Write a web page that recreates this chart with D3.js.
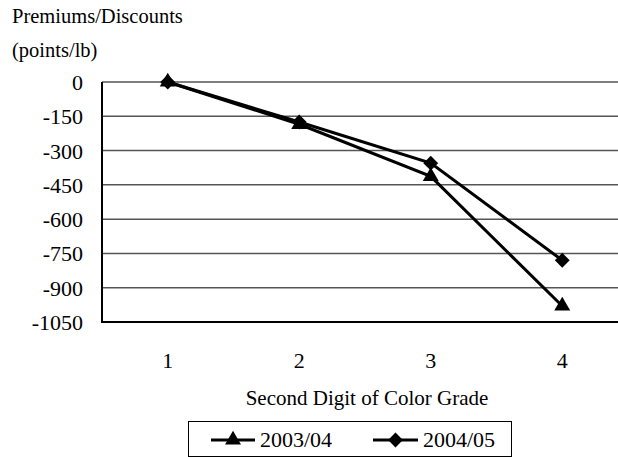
<!DOCTYPE html>
<html>
<head>
<meta charset="utf-8">
<script src="https://cdn.jsdelivr.net/npm/d3@7"></script>
<style>
  html, body { margin: 0; padding: 0; background: #fff; }
  svg { display: block; }
  text { font-family: "Liberation Serif", "Times New Roman", serif; fill: #000; }
</style>
</head>
<body>
<svg id="chart" width="618" height="458"></svg>
<script>
// Color-grade second digit categories
const grades = ["1", "2", "3", "4"];
// Premiums/discounts (points/lb) by season
const season0304 = [0, -185, -413, -980];
const season0405 = [0, -175, -355, -780];
const seriesNames = ["2003/04", "2004/05"];
// Y axis ticks
const yTicks = [0, -150, -300, -450, -600, -750, -900, -1050];

const FONT = "'Liberation Serif', 'Times New Roman', serif";
const svg = d3.select("#chart");
const W = 618, H = 458;
const plot = { left: 102, top: 82, right: 628, bottom: 322 };

const x = d3.scaleBand().domain(grades).range([plot.left, plot.right]);
const y = d3.scaleLinear().domain([-1050, 0]).range([plot.bottom, plot.top]);

// Horizontal gridlines
svg.append("g")
  .selectAll("line")
  .data(yTicks)
  .join("line")
  .attr("x1", plot.left).attr("x2", W)
  .attr("y1", d => y(d)).attr("y2", d => y(d))
  .attr("stroke", d => d === -1050 ? "#000" : "#555")
  .attr("stroke-width", d => d === -1050 ? 2 : 1.5);

// Left axis line
svg.append("line")
  .attr("x1", plot.left).attr("x2", plot.left)
  .attr("y1", plot.top).attr("y2", plot.bottom + 1)
  .attr("stroke", "#000").attr("stroke-width", 2);

// Y tick labels (plain hyphen for negatives)
const yAxis = d3.axisLeft(y).tickValues(yTicks).tickSize(0).tickPadding(19)
  .tickFormat(d => String(d));
const gy = svg.append("g").attr("transform", `translate(${plot.left},0)`).call(yAxis)
  .attr("font-family", FONT).attr("font-size", 22);
gy.select(".domain").remove();
gy.selectAll("text").attr("fill", "#000").attr("dy", "0.34em");

// X tick labels
const xAxis = d3.axisBottom(x).tickSize(0).tickPadding(0);
const gx = svg.append("g").attr("transform", `translate(0,${plot.bottom})`).call(xAxis)
  .attr("font-family", FONT).attr("font-size", 22);
gx.select(".domain").remove();
gx.selectAll("text").attr("fill", "#000").attr("y", 46).attr("dy", 0);

// Axis titles
svg.append("text").attr("x", 12).attr("y", 23).style("font-size", "20.5px").text("Premiums/Discounts");
svg.append("text").attr("x", 12).attr("y", 57).style("font-size", "20.5px").text("(points/lb)");
svg.append("text")
  .attr("x", 367).attr("y", 405)
  .attr("text-anchor", "middle")
  .style("font-size", "21px")
  .text("Second Digit of Color Grade");

// Series lines and markers
const cx = d => x(d) + x.bandwidth() / 2;
const line = d3.line().x((d, i) => cx(grades[i])).y(d => y(d));
const triangle = d3.symbol().type(d3.symbolTriangle).size(110);
const diamond = d3.symbol().type(d3.symbolSquare).size(110);

const series = [
  { name: seriesNames[0], values: season0304, sym: triangle, rot: 0 },
  { name: seriesNames[1], values: season0405, sym: diamond, rot: 45 }
];

series.slice().reverse().forEach(s => {
  svg.append("path")
    .attr("d", line(s.values))
    .attr("fill", "none")
    .attr("stroke", "#000")
    .attr("stroke-width", 3);
});
series.slice().reverse().forEach(s => {
  svg.append("g")
    .selectAll("path")
    .data(s.values)
    .join("path")
    .attr("d", s.sym())
    .attr("transform", (d, i) => `translate(${cx(grades[i])},${y(d)}) rotate(${s.rot})`)
    .attr("fill", "#000");
});

// Legend
const lg = svg.append("g");
lg.append("rect")
  .attr("x", 188.5).attr("y", 421.5).attr("width", 323).attr("height", 35)
  .attr("fill", "#fff").attr("stroke", "#000").attr("stroke-width", 1);
const legendItems = [
  { x0: 211, x1: 255, tx: 260, s: series[0] },
  { x0: 373, x1: 418, tx: 423, s: series[1] }
];
legendItems.forEach(it => {
  const ly = 440;
  lg.append("line").attr("x1", it.x0).attr("x2", it.x1).attr("y1", ly).attr("y2", ly)
    .attr("stroke", "#000").attr("stroke-width", 3);
  lg.append("path").attr("d", it.s.sym())
    .attr("transform", `translate(${(it.x0 + it.x1) / 2},${ly}) rotate(${it.s.rot})`)
    .attr("fill", "#000");
  lg.append("text").attr("x", it.tx).attr("y", 447).style("font-size", "22px").text(it.s.name);
});
</script>
</body>
</html>
